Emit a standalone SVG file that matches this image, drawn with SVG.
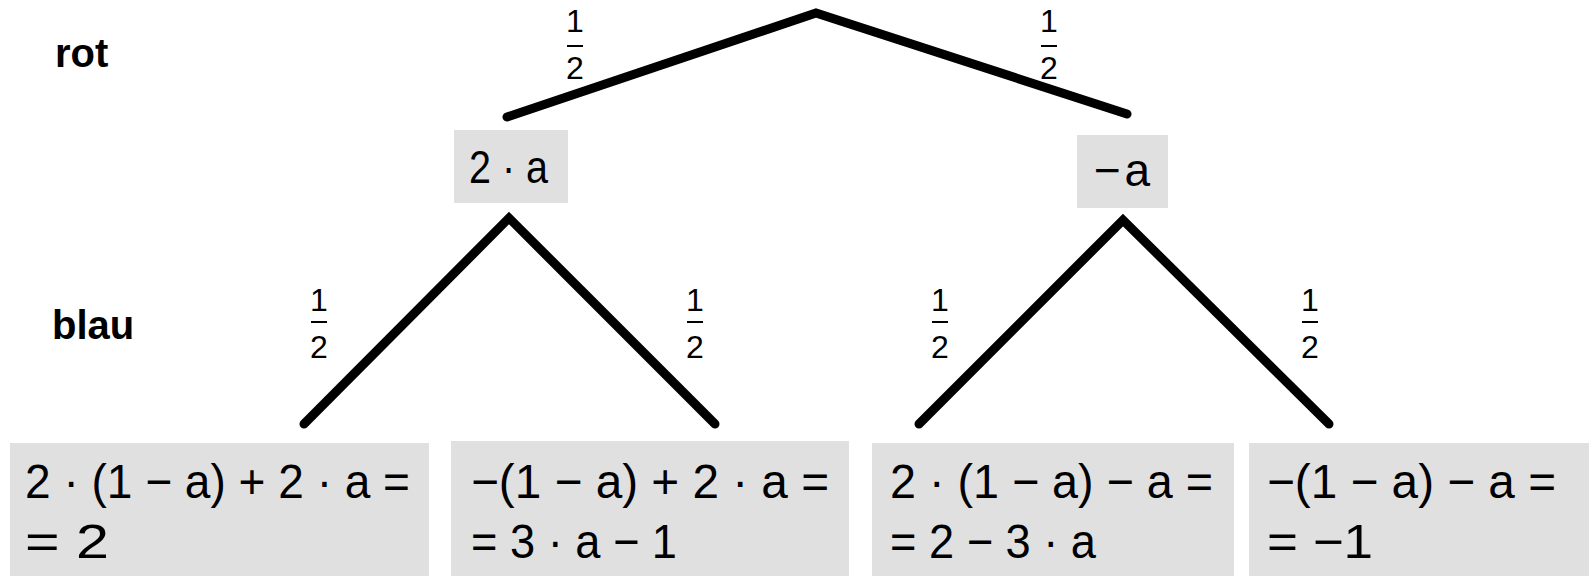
<svg xmlns="http://www.w3.org/2000/svg" width="1589" height="576" viewBox="0 0 1589 576">
<style>
.lbl{font-family:"Liberation Sans",Arial,sans-serif;font-weight:bold;font-size:40px;fill:#000}
.m{font-family:"Liberation Sans",Arial,sans-serif;font-size:48px;fill:#000}
.t{font-family:"Liberation Sans",Arial,sans-serif;font-size:46px;fill:#000}
.f{font-family:"Liberation Sans",Arial,sans-serif;font-size:32px;fill:#000;text-anchor:middle}
.box{fill:#e0e0e0}
.edge{stroke:#000;stroke-width:9;stroke-linecap:round;fill:none}
.bar{stroke:#000;stroke-width:2}
</style>
<rect width="1589" height="576" fill="#fff"/>
<text class="lbl" x="55" y="67">rot</text>
<text class="lbl" x="52" y="339">blau</text>
<g id="connectors">
<polyline class="edge" points="507,117 816,13 1127,114"/>
<polyline class="edge" points="304,424 509,218 715,424"/>
<polyline class="edge" points="919,424 1123,220 1329,424"/>
</g>
<g id="probs">
<g id="p1"><text class="f" x="575" y="32">1</text><line class="bar" x1="567" y1="46" x2="583" y2="46"/><text class="f" x="575" y="79">2</text></g>
<g id="p2"><text class="f" x="1049" y="32">1</text><line class="bar" x1="1041" y1="46" x2="1057" y2="46"/><text class="f" x="1049" y="79">2</text></g>
<g id="p3"><text class="f" x="319" y="311">1</text><line class="bar" x1="311" y1="322" x2="327" y2="322"/><text class="f" x="319" y="358">2</text></g>
<g id="p4"><text class="f" x="695" y="311">1</text><line class="bar" x1="687" y1="322" x2="703" y2="322"/><text class="f" x="695" y="358">2</text></g>
<g id="p5"><text class="f" x="940" y="311">1</text><line class="bar" x1="932" y1="322" x2="948" y2="322"/><text class="f" x="940" y="358">2</text></g>
<g id="p6"><text class="f" x="1310" y="311">1</text><line class="bar" x1="1302" y1="322" x2="1318" y2="322"/><text class="f" x="1310" y="358">2</text></g>
</g>
<g id="n-red"><rect class="box" x="454" y="130" width="114" height="73"/><text class="t" x="469" y="183" textLength="79" lengthAdjust="spacingAndGlyphs">2 · a</text></g>
<g id="n-minus-a"><rect class="box" x="1077" y="135" width="91" height="73"/><text class="t" x="1094" y="186" textLength="56" lengthAdjust="spacing">−a</text></g>
<g id="n1"><rect class="box" x="10" y="443" width="419" height="140"/><text class="m" x="25" y="498" textLength="385" lengthAdjust="spacingAndGlyphs">2 · (1 − a) + 2 · a =</text><text class="m" x="25" y="558" textLength="84" lengthAdjust="spacingAndGlyphs">= 2</text></g>
<g id="n2"><rect class="box" x="451" y="441" width="398" height="140"/><text class="m" x="471" y="498" textLength="358" lengthAdjust="spacingAndGlyphs">−(1 − a) + 2 · a =</text><text class="m" x="471" y="558" textLength="206" lengthAdjust="spacingAndGlyphs">= 3 · a − 1</text></g>
<g id="n3"><rect class="box" x="872" y="443" width="362" height="140"/><text class="m" x="890" y="498" textLength="323" lengthAdjust="spacingAndGlyphs">2 · (1 − a) − a =</text><text class="m" x="890" y="558" textLength="206" lengthAdjust="spacingAndGlyphs">= 2 − 3 · a</text></g>
<g id="n4"><rect class="box" x="1249" y="443" width="345" height="140"/><text class="m" x="1267" y="498" textLength="289" lengthAdjust="spacingAndGlyphs">−(1 − a) − a =</text><text class="m" x="1267" y="558" textLength="106" lengthAdjust="spacingAndGlyphs">= −1</text></g>
</svg>
